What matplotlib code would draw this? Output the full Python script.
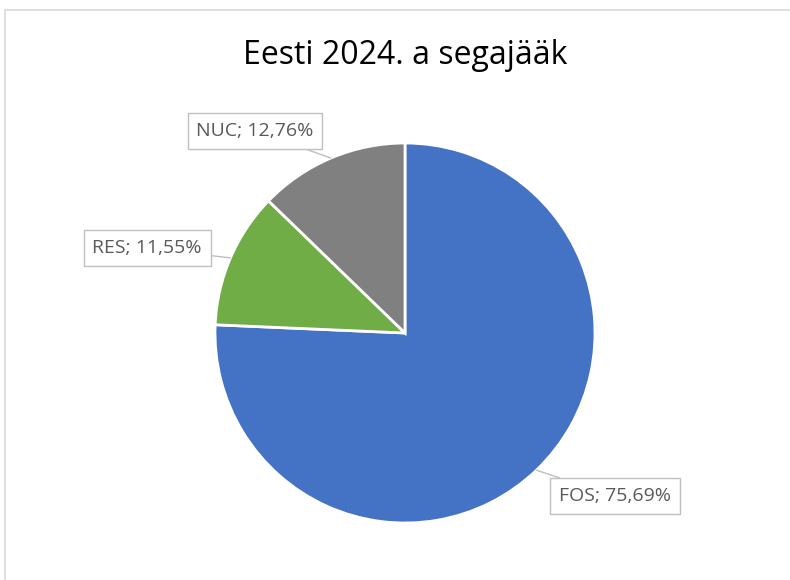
import matplotlib.pyplot as plt
import numpy as np
from matplotlib.patches import Rectangle

categories = ['FOS', 'RES', 'NUC']
shares = [75.69, 11.55, 12.76]
colors = ['#4472C4', '#70AD47', '#808080']
title = 'Eesti 2024. a segajääk'

plt.rcParams['font.family'] = ['Open Sans', 'DejaVu Sans']

W, H = 790, 580
fig = plt.figure(figsize=(W / 100, H / 100), dpi=100)
ax = fig.add_axes([0, 0, 1, 1])

# chart frame (cropped)
ax.add_patch(Rectangle((5, -10), W + 20, H - 10 + 10, fill=False,
                       edgecolor='#d9d9d9', linewidth=1.2))

cx, cy, r = 405, H - 333, 190
wedges, _ = ax.pie(shares, colors=colors, startangle=90, counterclock=False,
                   center=(cx, cy), radius=r, frame=True,
                   wedgeprops=dict(edgecolor='white', linewidth=2))
ax.set_xlim(0, W)
ax.set_ylim(0, H)
ax.set_aspect('equal')
ax.axis('off')

ax.text(405, H - 56, title, ha='center', va='center', fontsize=23, color='black')

# label box centres (pixels)
label_pos = {'FOS': (615, H - 496), 'RES': (147, H - 248), 'NUC': (255, H - 131)}
for w, name, val in zip(wedges, categories, shares):
    lx, ly = label_pos[name]
    mid = np.deg2rad((w.theta1 + w.theta2) / 2)
    px = cx + r * np.cos(mid)
    py = cy + r * np.sin(mid)
    txt = f'{name}; {val:.2f}%'.replace('.', ',')
    ax.annotate(txt, xy=(px, py), xytext=(lx, ly), ha='center', va='center',
                fontsize=14, color='#595959',
                bbox=dict(boxstyle='square,pad=0.45', fc='white', ec='#bfbfbf', lw=1),
                arrowprops=dict(arrowstyle='-', color='#bfbfbf', lw=1, shrinkA=0, shrinkB=0))

fig.savefig('out.png', dpi=100)
